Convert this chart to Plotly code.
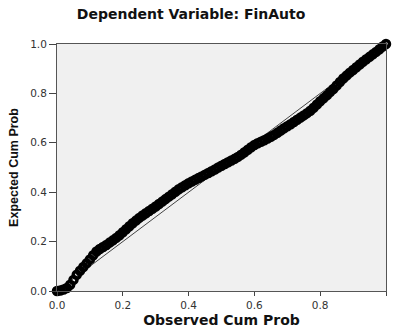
import plotly.graph_objects as go

# Observed cumulative probability (x) and expected cumulative probability (y)
observed_cum_prob = [
    0.00, 0.01, 0.02, 0.03, 0.04, 0.05, 0.06, 0.07, 0.08, 0.09,
    0.10, 0.11, 0.12, 0.13, 0.14, 0.15, 0.16, 0.17, 0.18, 0.19,
    0.20, 0.21, 0.22, 0.23, 0.24, 0.25, 0.26, 0.27, 0.28, 0.29,
    0.30, 0.31, 0.32, 0.33, 0.34, 0.35, 0.36, 0.37, 0.38, 0.39,
    0.40, 0.41, 0.42, 0.43, 0.44, 0.45, 0.46, 0.47, 0.48, 0.49,
    0.50, 0.51, 0.52, 0.53, 0.54, 0.55, 0.56, 0.57, 0.58, 0.59,
    0.60, 0.61, 0.62, 0.63, 0.64, 0.65, 0.66, 0.67, 0.68, 0.69,
    0.70, 0.71, 0.72, 0.73, 0.74, 0.75, 0.76, 0.77, 0.78, 0.79,
    0.80, 0.81, 0.82, 0.83, 0.84, 0.85, 0.86, 0.87, 0.88, 0.89,
    0.90, 0.91, 0.92, 0.93, 0.94, 0.95, 0.96, 0.97, 0.98, 0.99, 1.00,
]
expected_cum_prob = [
    0.000, 0.002, 0.006, 0.012, 0.025, 0.045, 0.066, 0.082, 0.097, 0.112,
    0.128, 0.145, 0.160, 0.170, 0.178, 0.186, 0.196, 0.205, 0.215, 0.226,
    0.238, 0.250, 0.262, 0.274, 0.285, 0.296, 0.306, 0.315, 0.324, 0.333,
    0.342, 0.352, 0.362, 0.372, 0.382, 0.392, 0.402, 0.412, 0.420, 0.428,
    0.436, 0.443, 0.450, 0.457, 0.464, 0.471, 0.478, 0.485, 0.492, 0.500,
    0.507, 0.514, 0.521, 0.528, 0.535, 0.543, 0.552, 0.562, 0.572, 0.582,
    0.591, 0.598, 0.604, 0.610, 0.617, 0.624, 0.632, 0.641, 0.650, 0.659,
    0.667, 0.675, 0.684, 0.693, 0.702, 0.711, 0.720, 0.730, 0.742, 0.755,
    0.768, 0.780, 0.792, 0.805, 0.818, 0.832, 0.846, 0.860, 0.872, 0.884,
    0.895, 0.906, 0.917, 0.928, 0.938, 0.948, 0.958, 0.968, 0.979, 0.990, 1.000,
]
reference_line = [0.0, 1.0]
tick_values = [0.0, 0.2, 0.4, 0.6, 0.8, 1.0]
tick_labels = ["0.0", "0.2", "0.4", "0.6", "0.8", "1.0"]

fig = go.Figure()
fig.add_trace(go.Scatter(
    x=reference_line, y=reference_line, mode="lines",
    line=dict(color="#444444", width=1), hoverinfo="skip", showlegend=False,
))
fig.add_trace(go.Scatter(
    x=observed_cum_prob, y=expected_cum_prob, mode="markers",
    marker=dict(symbol="circle-open", size=7, color="#000000",
                line=dict(color="#000000", width=3.5)),
    cliponaxis=False, showlegend=False,
))

axis_common = dict(
    range=[0, 1], tickvals=tick_values, ticktext=tick_labels,
    showgrid=False, zeroline=False,
    showline=True, linecolor="#555555", linewidth=1, mirror=True,
    ticks="outside", tickcolor="#444444", tickwidth=1,
    tickfont=dict(family="DejaVu Sans", size=10.5, color="#333333"),
    automargin=False, ticklabelstandoff=0,
)

fig.update_layout(
    width=394, height=329,
    margin=dict(l=57, r=8, t=44, b=38),
    paper_bgcolor="#ffffff", plot_bgcolor="#f0f0f0",
    title=dict(text="<b>Dependent Variable: FinAuto</b>",
               font=dict(family="DejaVu Sans", size=14, color="#111111"),
               x=0.485, xanchor="center", xref="container",
               y=0.957, yanchor="middle", yref="container"),
    xaxis=dict(**axis_common, ticklen=4,
               title=dict(text="<b>Observed Cum Prob</b>", standoff=5,
                          font=dict(family="DejaVu Sans", size=14, color="#111111"))),
    yaxis=dict(**axis_common, ticklen=7,
               title=dict(text="<b>Expected Cum Prob</b>", standoff=8,
                          font=dict(family="Liberation Sans", size=12.5, color="#111111"))),
)

fig.write_html(
    "out.html",
    config={"displayModeBar": False},
    post_script="document.body.style.margin='0';document.body.style.padding='0';",
)
